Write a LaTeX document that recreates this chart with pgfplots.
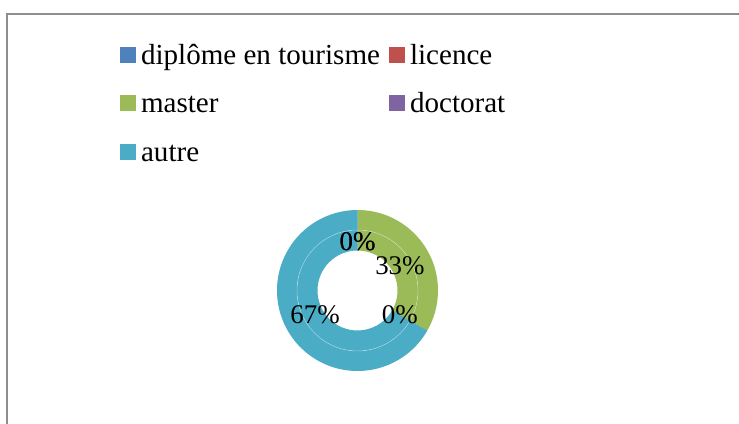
\documentclass[border=0pt]{standalone}
\usepackage{pgfplots}
\pgfplotsset{compat=1.18}
\usepackage{pgfplotstable}
\usepackage{fontspec}
\setmainfont{Liberation Serif}
\definecolor{cA}{HTML}{4F81BD}
\definecolor{cB}{HTML}{C0504D}
\definecolor{cC}{HTML}{9BBB59}
\definecolor{cD}{HTML}{8064A2}
\definecolor{cE}{HTML}{4BACC6}
\definecolor{framegray}{HTML}{8E8E8E}

% counts per category (diplome, licence, master, doctorat, autre)
\pgfplotstableread{
idx count
1 0
2 0
3 1
4 0
5 2
}\datatable

\pgfplotstablegetelem{0}{count}\of\datatable \let\vA\pgfplotsretval
\pgfplotstablegetelem{1}{count}\of\datatable \let\vB\pgfplotsretval
\pgfplotstablegetelem{2}{count}\of\datatable \let\vC\pgfplotsretval
\pgfplotstablegetelem{3}{count}\of\datatable \let\vD\pgfplotsretval
\pgfplotstablegetelem{4}{count}\of\datatable \let\vE\pgfplotsretval
\pgfmathsetmacro\total{\vA+\vB+\vC+\vD+\vE}
\pgfmathsetmacro\aA{90}
\pgfmathsetmacro\aB{\aA-360*\vA/\total}
\pgfmathsetmacro\aC{\aB-360*\vB/\total}
\pgfmathsetmacro\aD{\aC-360*\vC/\total}
\pgfmathsetmacro\aE{\aD-360*\vD/\total}
\pgfmathsetmacro\aF{\aE-360*\vE/\total}
\pgfmathsetmacro\mA{(\aA+\aB)/2}
\pgfmathsetmacro\mB{(\aB+\aC)/2}
\pgfmathsetmacro\mC{(\aC+\aD)/2}
\pgfmathsetmacro\mD{(\aD+\aE)/2}
\pgfmathsetmacro\mE{(\aE+\aF)/2}
\pgfmathtruncatemacro\pA{round(100*\vA/\total)}
\pgfmathtruncatemacro\pB{round(100*\vB/\total)}
\pgfmathtruncatemacro\pC{round(100*\vC/\total)}
\pgfmathtruncatemacro\pD{round(100*\vD/\total)}
\pgfmathtruncatemacro\pE{round(100*\vE/\total)}

% ring sector: color, start, end, inner radius, outer radius
\newcommand\ringsector[5]{%
  \fill[#1] (#2:#5) arc[start angle=#2, end angle=#3, radius=#5] -- (#3:#4) arc[start angle=#3, end angle=#2, radius=#4] -- cycle;}
\newcommand\seclabel[2]{%
  \node[font=\fontsize{20.2pt}{24pt}\selectfont, inner sep=0pt, anchor=center] at (#1:36.75pt) {#2\%};}

\begin{document}
\begin{tikzpicture}
\useasboundingbox (0,0) rectangle (554.25pt,318pt);
\draw[framegray, line width=1.3pt] (5.2pt,-10pt) -- (5.2pt,307.5pt) -- (570pt,307.5pt);
\begin{axis}[
  at={(268.125pt,100.125pt)}, anchor=center,
  hide axis, scale only axis,
  width=120.75pt, height=120.75pt,
  xmin=-1, xmax=1, ymin=-1, ymax=1,
  clip=false,
  legend columns=2,
  legend cell align=left,
  legend style={
    at={(-0.9752,2.036)}, anchor=north west,
    draw=none, fill=none, inner sep=0pt, outer sep=0pt,
    font=\fontsize{21.8pt}{26pt}\selectfont,
    nodes={inner sep=0pt, text height=16pt, text depth=5pt},
    column sep=4.2pt,
    row sep=15.2pt,
    /tikz/every even column/.append style={column sep=6.75pt},
  },
]
\addlegendimage{legend image code/.code={\fill[cA] (0pt,-3.9pt) rectangle (11.2pt,7.3pt);}}
\addlegendentry{diplôme en tourisme}
\addlegendimage{legend image code/.code={\fill[cB] (0pt,-3.9pt) rectangle (11.2pt,7.3pt);}}
\addlegendentry{licence}
\addlegendimage{legend image code/.code={\fill[cC] (0pt,-3.9pt) rectangle (11.2pt,7.3pt);}}
\addlegendentry{master}
\addlegendimage{legend image code/.code={\fill[cD] (0pt,-3.9pt) rectangle (11.2pt,7.3pt);}}
\addlegendentry{doctorat}
\addlegendimage{legend image code/.code={\fill[cE] (0pt,-3.9pt) rectangle (11.2pt,7.3pt);}}
\addlegendentry{autre}
\begin{scope}[shift={(axis cs:0,0)}]
  % outer series
  \ringsector{cA}{\aA}{\aB}{45.375pt}{60.375pt}
  \ringsector{cB}{\aB}{\aC}{45.375pt}{60.375pt}
  \ringsector{cC}{\aC}{\aD}{45.375pt}{60.375pt}
  \ringsector{cD}{\aD}{\aE}{45.375pt}{60.375pt}
  \ringsector{cE}{\aE}{\aF}{45.375pt}{60.375pt}
  % inner series
  \ringsector{cA}{\aA}{\aB}{30pt}{45.375pt}
  \ringsector{cB}{\aB}{\aC}{30pt}{45.375pt}
  \ringsector{cC}{\aC}{\aD}{30pt}{45.375pt}
  \ringsector{cD}{\aD}{\aE}{30pt}{45.375pt}
  \ringsector{cE}{\aE}{\aF}{30pt}{45.375pt}
  \draw[white, opacity=0.45, line width=0.35pt] (0:45.375pt) arc[start angle=0, end angle=360, radius=45.375pt];
  \seclabel{\mA}{\pA}
  \seclabel{\mB}{\pB}
  \seclabel{\mC}{\pC}
  \seclabel{\mD}{\pD}
  \seclabel{\mE}{\pE}
\end{scope}
\end{axis}
\end{tikzpicture}
\end{document}
